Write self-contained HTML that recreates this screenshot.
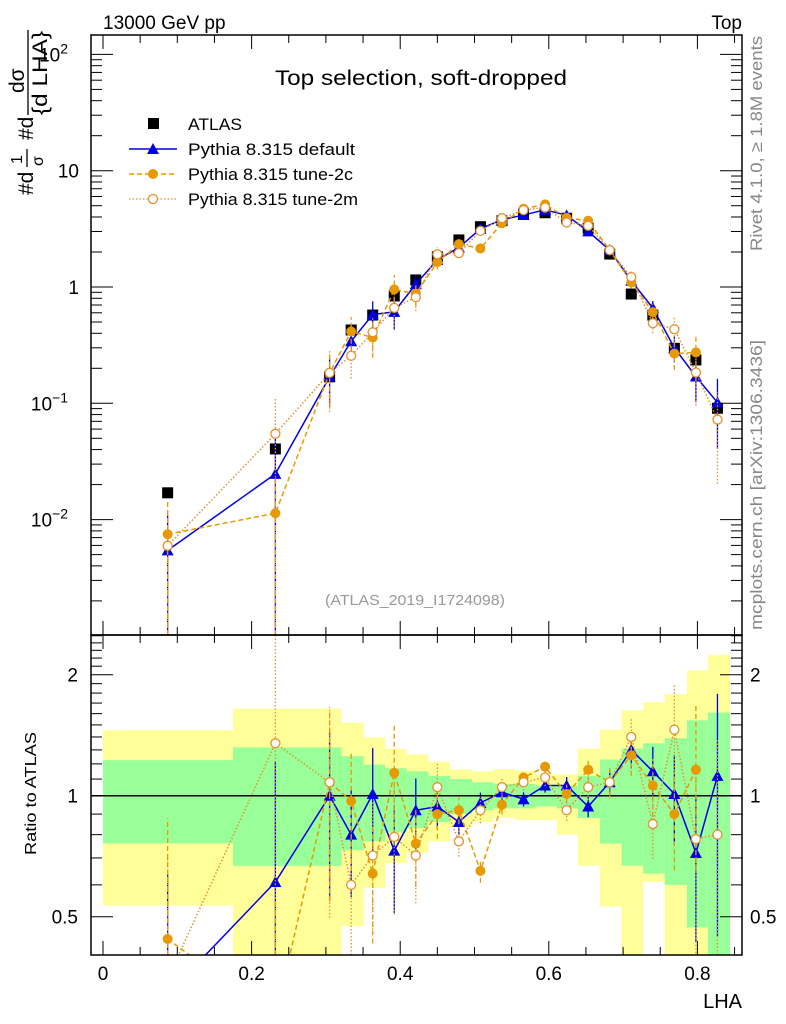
<!DOCTYPE html>
<html><head><meta charset="utf-8"><style>
html,body{margin:0;padding:0;background:#fff;width:786px;height:1024px;overflow:hidden;}
svg{display:block;font-family:"Liberation Sans",sans-serif;}
</style></head><body>
<svg id="chart" width="786" height="1024" viewBox="0 0 786 1024" xmlns="http://www.w3.org/2000/svg">
<defs>
<clipPath id="mainClip"><rect x="91" y="35" width="651" height="600"/></clipPath>
<clipPath id="ratioClip"><rect x="91" y="635" width="651" height="320"/></clipPath>
</defs>
<g id="bands" clip-path="url(#ratioClip)"></g>
<g id="ratioMarks" clip-path="url(#ratioClip)"></g>
<g id="mainMarks" clip-path="url(#mainClip)"></g>
<g id="axes"></g>
<text x="103" y="29" font-size="19">13000 GeV pp</text>
<text x="742" y="29" font-size="19" text-anchor="end">Top</text>
<text x="275" y="85" font-size="21" textLength="292" lengthAdjust="spacingAndGlyphs">Top selection, soft-dropped</text>
<text x="325" y="605" font-size="15" fill="#999" textLength="180" lengthAdjust="spacingAndGlyphs">(ATLAS_2019_I1724098)</text>
<text transform="translate(762,251) rotate(-90)" font-size="17" fill="#888" textLength="215" lengthAdjust="spacingAndGlyphs">Rivet 4.1.0, ≥ 1.8M events</text>
<text transform="translate(762,630) rotate(-90)" font-size="17" fill="#888" textLength="290" lengthAdjust="spacingAndGlyphs">mcplots.cern.ch [arXiv:1306.3436]</text>
<g transform="translate(33,195) rotate(-90)" font-size="21">
<text x="0" y="0">#d</text>
<text x="31" y="-11" font-size="16">1</text>
<line x1="28" y1="-6" x2="46" y2="-6" stroke="#000" stroke-width="1.3"/>
<text x="29" y="10" font-size="16">σ</text>
<text x="55" y="0">#d</text>
<text x="102" y="-9">dσ</text>
<line x1="80" y1="-5" x2="165" y2="-5" stroke="#000" stroke-width="1.3"/>
<text x="80" y="14" textLength="84" lengthAdjust="spacingAndGlyphs">{d LHA}</text>
</g>
<text transform="translate(36,855) rotate(-90)" font-size="16" textLength="123" lengthAdjust="spacingAndGlyphs">Ratio to ATLAS</text>
<text x="742" y="1008" font-size="20" text-anchor="end">LHA</text>
<g id="legend">
<rect x="148" y="118" width="11" height="11" fill="#000"/>
<text x="188" y="130" font-size="17" textLength="54" lengthAdjust="spacingAndGlyphs">ATLAS</text>
<line x1="129" y1="149" x2="177" y2="149" stroke="#0000e6" stroke-width="1.5"/>
<path d="M153,143 L159,154 L147,154 Z" fill="#0000e6"/>
<text x="188" y="155" font-size="17" textLength="167" lengthAdjust="spacingAndGlyphs">Pythia 8.315 default</text>
<line x1="129" y1="174" x2="177" y2="174" stroke="#e69a00" stroke-width="1.5" stroke-dasharray="5,3"/>
<circle cx="153" cy="174" r="5" fill="#e69a00"/>
<text x="188" y="180" font-size="17" textLength="165" lengthAdjust="spacingAndGlyphs">Pythia 8.315 tune-2c</text>
<line x1="129" y1="199" x2="177" y2="199" stroke="#e6902e" stroke-width="1.3" stroke-dasharray="1.5,2"/>
<circle cx="153" cy="199" r="4.5" fill="#fff" stroke="#e6902e" stroke-width="1.3"/>
<text x="188" y="205" font-size="17" textLength="170" lengthAdjust="spacingAndGlyphs">Pythia 8.315 tune-2m</text>
</g>
</svg>
<script>
const lhaPoints = [0.087,0.232,0.305,0.334,0.363,0.392,0.421,0.450,0.479,0.508,0.537,0.566,0.595,0.624,0.653,0.682,0.711,0.740,0.769,0.798,0.827];
const atlasValues = [0.017,0.0405,0.169,0.427,0.574,0.837,1.15,1.82,2.54,3.3,3.72,4.24,4.35,3.9,3.2,1.92,0.87,0.574,0.297,0.236,0.0906];
const ratioDefault = [0.32,0.61,1.0,0.80,1.01,0.73,0.92,0.94,0.86,0.96,1.02,0.98,1.06,1.06,0.94,1.08,1.30,1.15,1.01,0.72,1.12];
const ratioTune2c = [0.44,0.28,1.08,0.97,0.64,1.14,0.76,0.90,0.92,0.65,0.95,1.11,1.18,1.01,1.16,1.08,1.26,1.06,0.90,1.16,null];
const ratioTune2m = [0.35,1.35,1.08,0.60,0.71,0.79,0.71,1.05,0.77,0.92,1.05,1.08,1.11,0.92,1.05,1.08,1.40,0.85,1.46,0.78,0.80];
const relErrors = [1.0,1.0,0.45,0.3,0.3,0.3,0.2,0.12,0.07,0.06,0.05,0.04,0.04,0.05,0.06,0.07,0.1,0.15,0.25,0.4,0.6];
const bandEdges = [0,0.175,0.321,0.351,0.380,0.409,0.438,0.467,0.497,0.526,0.554,0.582,0.611,0.639,0.669,0.698,0.727,0.756,0.786,0.814,0.844];
const yellowHigh = [1.455,1.646,1.518,1.397,1.308,1.266,1.216,1.163,1.15,1.165,1.155,1.13,1.13,1.31,1.46,1.63,1.71,1.79,2.05,2.24];
const yellowLow = [0.533,0.3,0.474,0.59,0.68,0.72,0.77,0.834,0.86,0.88,0.87,0.87,0.80,0.67,0.53,0.3,0.61,0.3,0.3,0.3];
const greenHigh = [1.226,1.319,1.254,1.195,1.17,1.15,1.12,1.1,1.08,1.07,1.07,1.06,1.06,1.12,1.23,1.31,1.35,1.39,1.54,1.61];
const greenLow = [0.761,0.669,0.732,0.77,0.81,0.83,0.86,0.9,0.92,0.93,0.93,0.94,0.93,0.88,0.76,0.67,0.64,0.6,0.47,0.3];
const xTickLabels = ["0","0.2","0.4","0.6","0.8"];

const NS="http://www.w3.org/2000/svg";
const X = v => 103 + v*743;
const YM = v => 287 - 116.3*Math.log10(v);
const YR = r => 795.7 - 121*Math.log2(r);
const clampY = (y,lo,hi) => Math.max(lo, Math.min(hi, y));
function mk(parent, tag, attrs){const e=document.createElementNS(NS,tag);for(const k in attrs)e.setAttribute(k,attrs[k]);parent.appendChild(e);return e;}
const bands=document.getElementById('bands'), rm=document.getElementById('ratioMarks'), mm=document.getElementById('mainMarks'), ax=document.getElementById('axes');

for(let i=0;i<yellowHigh.length;i++){
  const x0=X(bandEdges[i]), x1=X(bandEdges[i+1]);
  const yt=clampY(YR(yellowHigh[i]),635,955), yb=clampY(YR(yellowLow[i]),635,955);
  const gt=clampY(YR(greenHigh[i]),635,955), gb=clampY(YR(greenLow[i]),635,955);
  let r=mk(bands,'rect',{x:x0,y:yt,width:x1-x0,height:yb-yt,fill:'#ffff99'});
  
  
  r=mk(bands,'rect',{x:x0,y:gt,width:x1-x0,height:gb-gt,fill:'#99ff99'});
  
  
}
let one=mk(rm,'line',{x1:91,x2:742,y1:YR(1),y2:YR(1),stroke:'#000','stroke-width':1.5});



const series=[
 {name:'default',ratio:ratioDefault,color:'#0000e6',dash:'',marker:'tri',errScale:1},
 {name:'tune-2c',ratio:ratioTune2c,color:'#e69a00',dash:'5,3',marker:'dot',errScale:1.1},
 {name:'tune-2m',ratio:ratioTune2m,color:'#e6902e',dash:'1.5,2',marker:'ring',errScale:1.2}
];
function marker(g,type,x,y,color){
  let e;
  if(type==='tri') e=mk(g,'path',{d:`M${x},${y-6} L${x+6},${y+5} L${x-6},${y+5} Z`,fill:color});
  else if(type==='dot') e=mk(g,'circle',{cx:x,cy:y,r:5,fill:color});
  else e=mk(g,'circle',{cx:x,cy:y,r:4.5,fill:'#fff',stroke:color,'stroke-width':1.3});
  return e;
}
function drawSeries(s, g, yf, valFn, isRatio, lo, hi){
  const pts=[];
  for(let i=0;i<lhaPoints.length;i++){
    if(s.ratio[i]==null) continue;
    const v=valFn(i); pts.push([X(lhaPoints[i]),yf(v)]);
    const e=Math.min(0.999,relErrors[i]*s.errScale);
    const yl=clampY(yf(v*(1-e)),lo,hi), yh=clampY(yf(v*(1+e)),lo,hi);
    const eb=mk(g,'line',{x1:X(lhaPoints[i]),x2:X(lhaPoints[i]),y1:yl,y2:yh,stroke:s.color,'stroke-width':1.3,'stroke-dasharray':s.dash});
    
    
  }
  const pl=mk(g,'polyline',{points:pts.map(p=>p.join(',')).join(' '),fill:'none',stroke:s.color,'stroke-width':1.5,'stroke-dasharray':s.dash});
  
  
  for(const p of pts){
    if(p[1]<lo-10||p[1]>hi+10) continue;
    const m=marker(g,s.marker,p[0],p[1],s.color);
    
    
  }
}
for(let i=0;i<lhaPoints.length;i++){
  const r=mk(mm,'rect',{x:X(lhaPoints[i])-5.5,y:YM(atlasValues[i])-5.5,width:11,height:11,fill:'#000'});
  
  
}
for(const s of series){
  drawSeries(s,mm,YM,i=>atlasValues[i]*s.ratio[i],false,35,635);
  drawSeries(s,rm,YR,i=>s.ratio[i],true,635,955);
}

let f=mk(ax,'rect',{x:91,y:35,width:651,height:600,fill:'none',stroke:'#000','stroke-width':1.5});


f=mk(ax,'rect',{x:91,y:635,width:651,height:320,fill:'none',stroke:'#000','stroke-width':1.5});


function tick(x1,y1,x2,y2){const t=mk(ax,'line',{x1,y1,x2,y2,stroke:'#000','stroke-width':1});

}
for(let k=0;k<=17;k++){
  const v=k*0.05, x=X(v); if(x>742) break;
  const L=(k%4===0)?14:8;
  tick(x,635,x,635-L); tick(x,35,x,35+L); tick(x,955,x,955-L); tick(x,635,x,635+L);
}
xTickLabels.forEach((lab,i)=>{const t=mk(ax,'text',{x:X(i*0.2),y:980,'font-size':19,'text-anchor':'middle'});t.textContent=lab;

});
const yLabels=[[2,'10','2'],[1,'10',''],[0,'1',''],[-1,'10','−1'],[-2,'10','−2']];
for(let d=-3;d<=2;d++){
  for(let m=1;m<=9;m++){
    const v=m*Math.pow(10,d), y=YM(v); if(y<35||y>635) continue;
    const L=m===1?22:11; tick(91,y,91+L,y); tick(742,y,742-L,y);
  }
}
yLabels.forEach(([d,base,sup])=>{
  const t=mk(ax,'text',{x:sup?68:79,y:YM(Math.pow(10,d))+7,'font-size':19,'text-anchor':'end'});
  
  
  t.textContent=base;
  if(sup){const s=mk(t,'tspan',{dy:-8,'font-size':14});s.textContent=sup;}
});
for(let k=4;k<=25;k++){
  const r=k/10, y=YR(r); if(y<635||y>955) continue;
  const L=(k===5||k===10||k===20)?22:11; tick(91,y,91+L,y); tick(742,y,742-L,y);
}
[['2',2],['1',1],['0.5',0.5]].forEach(([lab,r])=>{
  let t=mk(ax,'text',{x:78,y:YR(r)+7,'font-size':19,'text-anchor':'end'});t.textContent=lab;
  
  
  t=mk(ax,'text',{x:750,y:YR(r)+7,'font-size':19});t.textContent=lab;
  
  
});
</script>
</body></html>
